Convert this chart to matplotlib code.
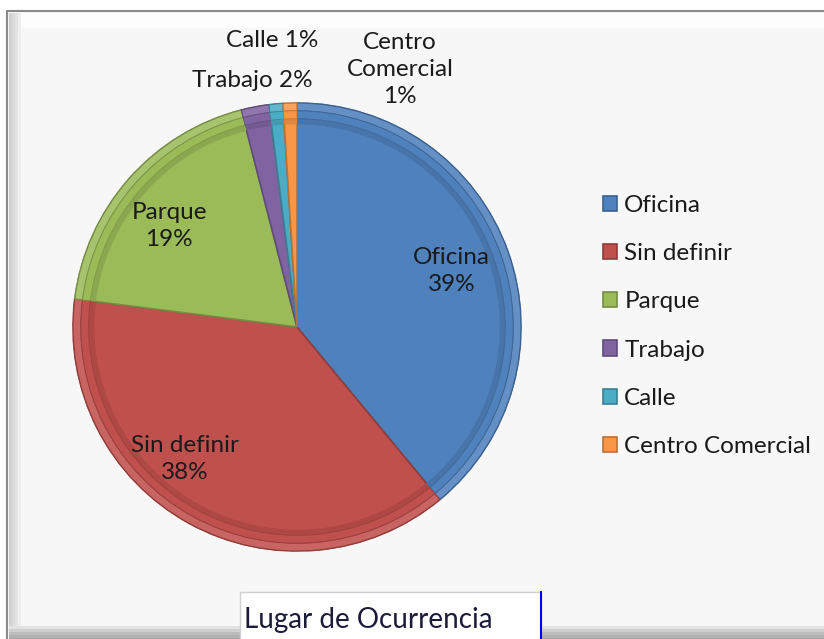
import matplotlib
matplotlib.use("Agg")
import matplotlib.pyplot as plt
from matplotlib.patches import Rectangle, Wedge
from matplotlib.colors import to_rgb

# datos del grafico
categorias = ["Oficina", "Sin definir", "Parque", "Trabajo", "Calle", "Centro Comercial"]
porcentajes = [39, 38, 19, 2, 1, 1]
colores = ["#4f81bd", "#c0504d", "#9bbb59", "#8064a2", "#4bacc6", "#f79646"]
titulo = "Lugar de Ocurrencia"

# posicion de las etiquetas (coordenadas del eje del pie)
pos_etiquetas = [(0.69, 0.25), (-0.50, -0.59), (-0.57, 0.45),
                 (-0.20, 1.10), (-0.11, 1.28), (0.46, 1.15)]
etiqueta_en_linea = [False, False, False, True, True, False]

plt.rcParams['font.family'] = ['Lato', 'DejaVu Sans']


def oscurecer(c, f):
    r, g, b = to_rgb(c)
    return (r * f, g * f, b * f)


def aclarar(c, f):
    r, g, b = to_rgb(c)
    return (r + (1 - r) * f, g + (1 - g) * f, b + (1 - b) * f)


fig = plt.figure(figsize=(8.24, 6.39), dpi=100)
fig.patch.set_facecolor("white")

# marco con bisel
fig.add_artist(Rectangle((7 / 824, -0.1), 1.0, 1 - 11 / 639 + 0.1, transform=fig.transFigure,
                         facecolor="#f7f7f7", edgecolor="#8a8a8a", linewidth=1.5, zorder=0))
for i, gris in enumerate(["#d2d2d2", "#dadada", "#e4e4e4", "#eeeeee"]):
    fig.add_artist(Rectangle(((9 + 3 * i) / 824, 0), 3 / 824, 1 - 13 / 639,
                             transform=fig.transFigure, facecolor=gris,
                             edgecolor="none", zorder=0))
fig.add_artist(Rectangle((21 / 824, 1 - 28 / 639), 1.0, 15 / 639, transform=fig.transFigure,
                         facecolor="#fdfdfd", edgecolor="none", zorder=0))
for i, gris in enumerate(["#e2e2e2", "#cfcfcf", "#bdbdbd", "#b0b0b0", "#a8a8a8"]):
    fig.add_artist(Rectangle((9 / 824, (13 - 3 * i - 3) / 639), 1.0, 3 / 639,
                             transform=fig.transFigure, facecolor=gris,
                             edgecolor="none", zorder=0))

ax = fig.add_axes([73 / 824, 1 - 551 / 639, 448 / 824, 448 / 639])
ax.set_facecolor("none")

wedges, _ = ax.pie(porcentajes, colors=colores, startangle=90, counterclock=False,
                   radius=1.0, wedgeprops=dict(edgecolor="none"))

# efecto de bisel
for w, c in zip(wedges, colores):
    w.set_facecolor(c)
    w.set_edgecolor(oscurecer(c, 0.75))
    w.set_linewidth(1.2)
    t1, t2 = w.theta1, w.theta2
    ax.add_patch(Wedge((0, 0), 1.0, t1, t2, width=0.035,
                       facecolor=aclarar(c, 0.12), edgecolor=oscurecer(c, 0.75), linewidth=0.8))
    ax.add_patch(Wedge((0, 0), 0.93, t1, t2, width=0.025,
                       facecolor=oscurecer(c, 0.9), edgecolor="none"))
    ax.add_patch(Wedge((0, 0), 0.965, t1, t2, width=0.035,
                       facecolor=c, edgecolor=oscurecer(c, 0.8), linewidth=0.6))

for nombre, p, (x, y), linea in zip(categorias, porcentajes, pos_etiquetas, etiqueta_en_linea):
    if linea:
        texto = f"{nombre} {p}%"
    elif nombre == "Centro Comercial":
        texto = f"Centro\nComercial\n{p}%"
    else:
        texto = f"{nombre}\n{p}%"
    ax.text(x, y, texto, ha="center", va="center", fontsize=17.5, color="#1a1a1a",
            linespacing=1.35, clip_on=False)

ax.set_xlim(-1, 1)
ax.set_ylim(-1, 1)
ax.set_aspect("auto")
ax.axis("off")

ley = fig.legend(wedges, categorias, loc="center left",
                 bbox_to_anchor=(581 / 824, 1 - 326 / 639), frameon=False,
                 fontsize=17.5, labelspacing=1.12, handlelength=0.58, handleheight=0.58,
                 handletextpad=0.3, labelcolor="#1a1a1a")

# cuadro del titulo
fig.add_artist(Rectangle((240 / 824, -0.05), 301 / 824, 47 / 639 + 0.05,
                         transform=fig.transFigure, facecolor="white",
                         edgecolor="#d0d0d0", linewidth=1.0, zorder=3))
fig.add_artist(plt.Line2D([541 / 824, 541 / 824], [0, 47 / 639], transform=fig.transFigure,
                          color="#0000ff", linewidth=1.5, zorder=4))
fig.text(244 / 824, 1 - 620 / 639, titulo, ha="left", va="center", fontsize=20,
         color="#1c1c3a", zorder=5)

fig.savefig("out.png", dpi=100)
